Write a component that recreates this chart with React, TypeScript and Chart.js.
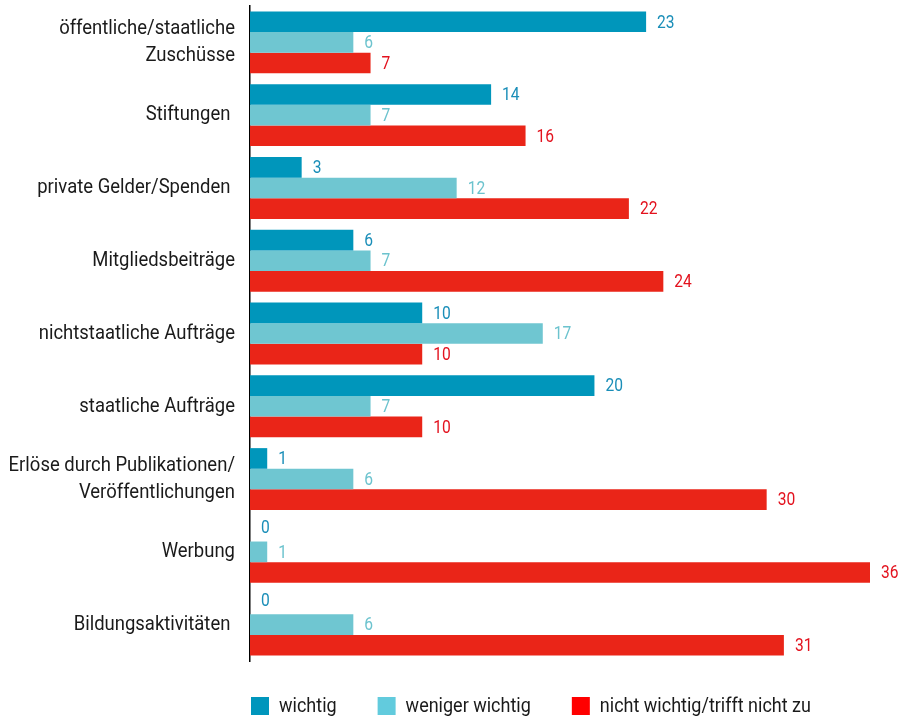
import React, { useEffect, useRef } from "react";
import { Chart, registerables } from "chart.js";

Chart.register(...registerables);

const categories: (string | string[])[] = [
  ["öffentliche/staatliche", "Zuschüsse"],
  "Stiftungen ",
  "private Gelder/Spenden ",
  "Mitgliedsbeiträge",
  "nichtstaatliche Aufträge",
  "staatliche Aufträge",
  ["Erlöse durch Publikationen/", "Veröffentlichungen"],
  "Werbung",
  "Bildungsaktivitäten ",
];
const seriesNames = ["wichtig", "weniger wichtig", "nicht wichtig/trifft nicht zu"];
const wichtig = [23, 14, 3, 6, 10, 20, 1, 0, 0];
const wenigerWichtig = [6, 7, 12, 7, 17, 7, 6, 1, 6];
const nichtWichtig = [7, 16, 22, 24, 10, 10, 30, 36, 31];

const barColors = ["#0096BB", "#6FC6D1", "#EA2518"];
const labelColors = ["#1A8EB8", "#6CC3CE", "#E3121E"];
const legendColors = ["#0096BC", "#62CBDD", "#FF0000"];
const FONT = "Roboto, 'Liberation Sans', sans-serif";

function condensedText(ctx: any, text: string, x: number, y: number, sx: number, align: string) {
  ctx.save();
  ctx.translate(x, y);
  ctx.scale(sx, 1);
  ctx.textAlign = align;
  ctx.fillText(text, 0, 0);
  ctx.restore();
}

const categoryLabelPlugin = {
  id: "categoryLabels",
  afterDraw(chart: any) {
    const ctx = chart.ctx;
    const scale = chart.scales.y;
    const labels = chart.data.labels;
    ctx.save();
    ctx.font = `21px ${FONT}`;
    ctx.fillStyle = "#1a1a1a";
    ctx.textBaseline = "middle";
    const xRight = scale.right - 15;
    const lh = 27;
    labels.forEach((lab: any, i: number) => {
      const lines = Array.isArray(lab) ? lab : [lab];
      const yc = scale.getPixelForTick(i);
      const y0 = yc - ((lines.length - 1) * lh) / 2;
      lines.forEach((line: string, k: number) => {
        condensedText(ctx, line, xRight, y0 + k * lh, 0.88, "right");
      });
    });
    ctx.restore();
  },
};

const valueLabelPlugin = {
  id: "valueLabels",
  afterDatasetsDraw(chart: any) {
    const ctx = chart.ctx;
    chart.data.datasets.forEach((ds: any, i: number) => {
      const meta = chart.getDatasetMeta(i);
      meta.data.forEach((el: any, j: number) => {
        const v = ds.data[j];
        ctx.save();
        ctx.font = `19px ${FONT}`;
        ctx.fillStyle = labelColors[i];
        ctx.textBaseline = "middle";
        const dy = v === 0 ? -3 : 1;
        condensedText(ctx, String(v), el.x + 11, el.y + dy, 0.82, "left");
        ctx.restore();
      });
    });
  },
};

const legendPlugin = {
  id: "customLegend",
  afterDraw(chart: any) {
    const ctx = chart.ctx;
    const sx = 0.9;
    ctx.save();
    ctx.font = `20px ${FONT}`;
    ctx.textBaseline = "middle";
    let x = chart.chartArea.left + 1;
    const y = 697;
    chart.data.datasets.forEach((ds: any, i: number) => {
      ctx.fillStyle = legendColors[i];
      ctx.fillRect(x, y, 18, 18);
      ctx.fillStyle = "#1a1a1a";
      const tx = x + 28;
      condensedText(ctx, ds.label, tx, y + 10, sx, "left");
      x = tx + ctx.measureText(ds.label).width * sx + 41;
    });
    ctx.restore();
  },
};

export default function App() {
  const ref = useRef<HTMLCanvasElement | null>(null);

  useEffect(() => {
    document.body.style.margin = "0";
    if (!ref.current) return;
    const chart = new Chart(ref.current, {
      type: "bar",
      data: {
        labels: categories,
        datasets: [wichtig, wenigerWichtig, nichtWichtig].map((d, i) => ({
          label: seriesNames[i],
          data: d,
          backgroundColor: barColors[i],
          borderWidth: 0,
          categoryPercentage: 0.85,
          barPercentage: 1,
        })),
      },
      options: {
        indexAxis: "y",
        responsive: false,
        animation: false,
        layout: { padding: { left: 0, right: 33, top: 6, bottom: 56 } },
        plugins: {
          legend: { display: false },
          tooltip: { enabled: false },
        },
        scales: {
          x: {
            display: false,
            min: 0,
            max: 36,
          },
          y: {
            afterFit(scale: any) {
              scale.width = 250;
            },
            grid: { display: false, drawTicks: false },
            border: { display: true, color: "#000", width: 1.5 },
            ticks: { display: false, autoSkip: false },
          },
        },
      },
      plugins: [valueLabelPlugin, categoryLabelPlugin, legendPlugin],
    } as any);
    return () => chart.destroy();
  }, []);

  return (
    <div style={{ width: 903, height: 717 }}>
      <canvas ref={ref} width={903} height={717} style={{ display: "block" }} />
    </div>
  );
}
